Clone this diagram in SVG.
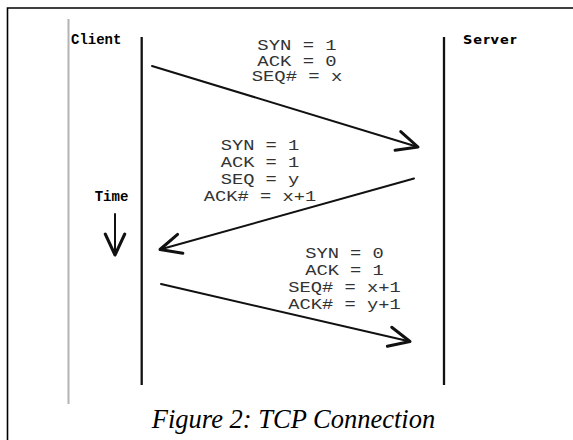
<svg xmlns="http://www.w3.org/2000/svg" width="573" height="440" viewBox="0 0 573 440">
<style>
.frame{stroke:#000;stroke-width:1.6;fill:none}
.life{stroke:#111;stroke-width:2.3;fill:none}
.msg{stroke:#111;stroke-width:2;fill:none;stroke-linecap:round}
.lbl{font-family:"Liberation Mono",monospace;fill:#333;text-anchor:middle}
.actor{font-family:"Liberation Mono",monospace;font-weight:bold;font-size:14px;fill:#000}
.srv{font-family:"DejaVu Sans",sans-serif;font-weight:bold;font-size:13px;fill:#000;letter-spacing:1px}
.cap{font-family:"Liberation Serif",serif;font-style:italic;font-size:26.5px;fill:#000;text-anchor:middle}
</style>
<defs>
<marker id="ah" markerUnits="userSpaceOnUse" markerWidth="30" markerHeight="30" viewBox="-16 -10 20 20" refX="0" refY="0" orient="auto" overflow="visible">
<path d="M-14,-6.5 L0,0 L-14,6.5" fill="none" stroke="#111" stroke-width="2" stroke-linecap="round" stroke-linejoin="round"/>
</marker>
</defs>
<rect width="573" height="440" fill="#fff"/>
<path class="frame" d="M7.5,440 L7.5,8 L573,8"/>
<line x1="68.5" y1="19" x2="68.5" y2="404" stroke="#b4b4b4" stroke-width="2"/>
<g id="client">
<line class="life" x1="141.7" y1="37" x2="141.7" y2="385"/>
<text class="actor" x="71" y="44">Client</text>
</g>
<g id="server">
<line class="life" x1="444" y1="37" x2="444" y2="385"/>
<text class="srv" x="463" y="44">Server</text>
</g>
<g id="time">
<text class="actor" x="111.5" y="201" text-anchor="middle">Time</text>
<line class="msg" x1="115" y1="214" x2="115" y2="255" marker-end="url(#ah)"/>
</g>
<g id="connectors">
<line class="msg" x1="152" y1="66" x2="418" y2="147" marker-end="url(#ah)"/>
<line class="msg" x1="414" y1="178.5" x2="160" y2="249.5" marker-end="url(#ah)"/>
<line class="msg" x1="161" y1="284" x2="410" y2="341.5" marker-end="url(#ah)"/>
</g>
<g id="label-syn" transform="translate(297,0) scale(1.35,1)">
<text class="lbl" font-size="14" x="0" y="50.5">SYN = 1</text>
<text class="lbl" font-size="14" x="0" y="65.8">ACK = 0</text>
<text class="lbl" font-size="14" x="0" y="81.2">SEQ# = x</text>
</g>
<g id="label-synack" transform="translate(260,0) scale(1.25,1)">
<text class="lbl" font-size="15" x="0" y="150">SYN = 1</text>
<text class="lbl" font-size="15" x="0" y="167.3">ACK = 1</text>
<text class="lbl" font-size="15" x="0" y="184.3">SEQ = y</text>
<text class="lbl" font-size="15" x="0" y="201.5">ACK# = x+1</text>
</g>
<g id="label-ack" transform="translate(344.5,0) scale(1.25,1)">
<text class="lbl" font-size="15" x="0" y="258.3">SYN = 0</text>
<text class="lbl" font-size="15" x="0" y="275">ACK = 1</text>
<text class="lbl" font-size="15" x="0" y="292">SEQ# = x+1</text>
<text class="lbl" font-size="15" x="0" y="309.3">ACK# = y+1</text>
</g>
<g id="caption">
<text class="cap" x="293.5" y="428">Figure 2: TCP Connection</text>
</g>
</svg>
